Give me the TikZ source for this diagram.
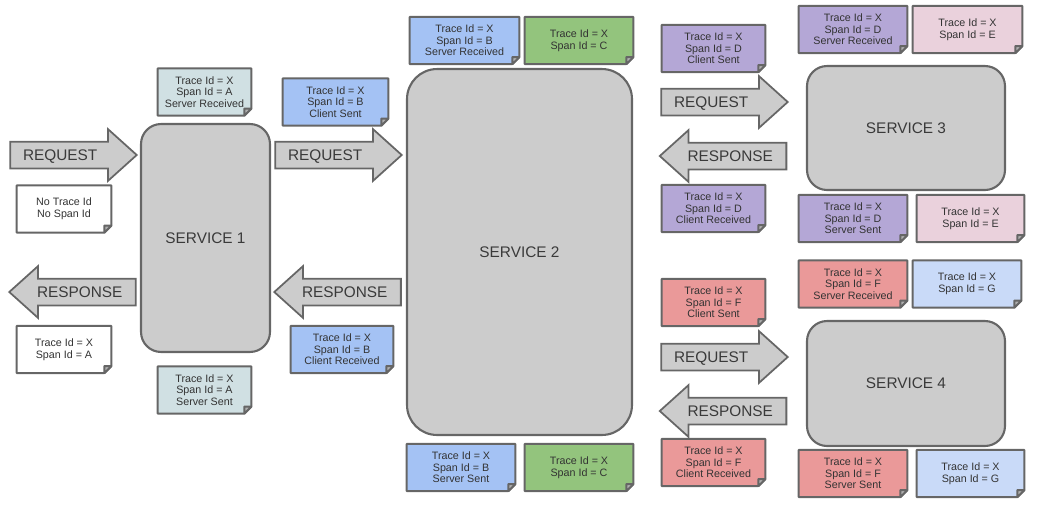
\documentclass[tikz,border=0pt]{standalone}
\usepackage{fontspec}
\setmainfont{Liberation Sans}
\usepackage{xcolor}
\usepackage{tikz}
\usetikzlibrary{shapes.arrows}

\definecolor{boxfill}{HTML}{CCCCCC}
\definecolor{boxline}{HTML}{666666}
\definecolor{labeltext}{HTML}{3A3A3A}
\definecolor{notetext}{HTML}{333333}
\definecolor{foldgray}{HTML}{B0B0B0}
\definecolor{spanA}{HTML}{D0E0E3}
\definecolor{spanB}{HTML}{A4C2F4}
\definecolor{spanC}{HTML}{93C47D}
\definecolor{spanD}{HTML}{B4A7D6}
\definecolor{spanE}{HTML}{EAD1DC}
\definecolor{spanF}{HTML}{EA9999}
\definecolor{spanG}{HTML}{C9DAF8}

\tikzset{
  service/.style={rectangle, rounded corners=#1, draw=boxline, line width=1.2pt,
    fill=boxfill, font=\fontsize{8.75}{10}\selectfont, text=labeltext},
  flow/.style={single arrow, draw=boxline, fill=boxfill, line width=1pt,
    single arrow head extend=0.25cm, single arrow tip angle=84,
    inner xsep=0pt, inner ysep=0pt, minimum height=0pt, minimum width=0pt,
    text width=2.2cm, text height=0.36cm, text depth=0.14cm, align=left,
    execute at begin node={\hspace*{0.24cm}},
    font=\fontsize{8.75}{10}\selectfont, text=labeltext},
  reqflow/.style={flow},
  respflow/.style={flow, shape border rotate=180},
  spanbox/.style={rectangle, draw=none, inner sep=0pt, minimum height=0.93cm,
    align=center, font=\fontsize{6.1}{6.6}\selectfont, text=notetext},
  spanline/.style={draw=boxline, line width=1.1pt, line join=round}
}

% span note: name, fill, centre, width, text
\newcommand{\spannote}[5]{%
  \node[spanbox, fill=#2, minimum width=#4] (#1) at (#3) {#5};
  \fill[white] ([xshift=-4pt]#1.south east) -- (#1.south east) -- ([yshift=4pt]#1.south east) -- cycle;
  \draw[spanline] (#1.north west) -- (#1.north east) -- ([yshift=4pt]#1.south east)
    -- ([xshift=-4pt]#1.south east) -- (#1.south west) -- cycle;
  \filldraw[spanline, fill=foldgray] ([yshift=4pt]#1.south east) -- ([xshift=-4pt]#1.south east)
    -- ([xshift=-4pt,yshift=4pt]#1.south east) -- cycle;
}

\begin{document}
\begin{tikzpicture}[x=0.02cm, y=-0.02cm]
\useasboundingbox (0,0) rectangle (1041,511);

% services
\node[service=0.4cm, minimum width=2.58cm, minimum height=4.56cm] (s1) at (205.5,238) {SERVICE 1};
\node[service=0.6cm, minimum width=4.5cm, minimum height=7.32cm] (s2) at (519.5,252) {SERVICE 2};
\node[service=0.4cm, minimum width=3.96cm, minimum height=2.48cm] (s3) at (906,128) {SERVICE 3};
\node[service=0.4cm, minimum width=3.96cm, minimum height=2.5cm] (s4) at (906,383.5) {SERVICE 4};

% request / response arrows
\node[reqflow] (req1) at (66,155) {REQUEST};
\node[respflow] (resp1) at (80,292) {RESPONSE};
\node[reqflow] (req2) at (331,155) {REQUEST};
\node[respflow] (resp2) at (345,292) {RESPONSE};
\node[reqflow] (req3) at (717,102) {REQUEST};
\node[respflow] (resp3) at (730.5,156) {RESPONSE};
\node[reqflow] (req4) at (717,357) {REQUEST};
\node[respflow] (resp4) at (730.5,411) {RESPONSE};

% span notes of service 1
\spannote{s1sr}{spanA}{204.5,92}{1.86cm}{Trace Id = X\\Span Id = A\\Server Received}
\spannote{nospan}{white}{64,209}{1.88cm}{No Trace Id\\No Span Id}
\spannote{s1resp}{white}{64,349.5}{1.88cm}{Trace Id = X\\Span Id = A}
\spannote{s1ss}{spanA}{204.5,390}{1.86cm}{Trace Id = X\\Span Id = A\\Server Sent}

% span notes of service 2
\spannote{s2cs}{spanB}{335.5,102}{2.1cm}{Trace Id = X\\Span Id = B\\Client Sent}
\spannote{s2sr}{spanB}{464.5,40.5}{2.18cm}{Trace Id = X\\Span Id = B\\Server Received}
\spannote{s2c1}{spanC}{579,40.5}{2.16cm}{Trace Id = X\\Span Id = C}
\spannote{s2cr}{spanB}{342,349.5}{2.04cm}{Trace Id = X\\Span Id = B\\Client Received}
\spannote{s2ss}{spanB}{461,467.5}{2.16cm}{Trace Id = X\\Span Id = B\\Server Sent}
\spannote{s2c2}{spanC}{579,467.5}{2.16cm}{Trace Id = X\\Span Id = C}

% span notes of service 3
\spannote{s3cs}{spanD}{713.5,48.5}{2.06cm}{Trace Id = X\\Span Id = D\\Client Sent}
\spannote{s3sr}{spanD}{853,29.5}{2.16cm}{Trace Id = X\\Span Id = D\\Server Received}
\spannote{s3e1}{spanE}{967.5,29.5}{2.18cm}{Trace Id = X\\Span Id = E}
\spannote{s3cr}{spanD}{713.5,208.5}{2.06cm}{Trace Id = X\\Span Id = D\\Client Received}
\spannote{s3ss}{spanD}{853,218.5}{2.16cm}{Trace Id = X\\Span Id = D\\Server Sent}
\spannote{s3e2}{spanE}{970.5,218.5}{2.14cm}{Trace Id = X\\Span Id = E}

% span notes of service 4
\spannote{s4cs}{spanF}{713.5,302.5}{2.06cm}{Trace Id = X\\Span Id = F\\Client Sent}
\spannote{s4sr}{spanF}{853,284}{2.16cm}{Trace Id = X\\Span Id = F\\Server Received}
\spannote{s4g1}{spanG}{967,284}{2.16cm}{Trace Id = X\\Span Id = G}
\spannote{s4cr}{spanF}{713.5,462.5}{2.06cm}{Trace Id = X\\Span Id = F\\Client Received}
\spannote{s4ss}{spanF}{853,473.5}{2.16cm}{Trace Id = X\\Span Id = F\\Server Sent}
\spannote{s4g2}{spanG}{970.5,473.5}{2.14cm}{Trace Id = X\\Span Id = G}
\end{tikzpicture}
\end{document}
